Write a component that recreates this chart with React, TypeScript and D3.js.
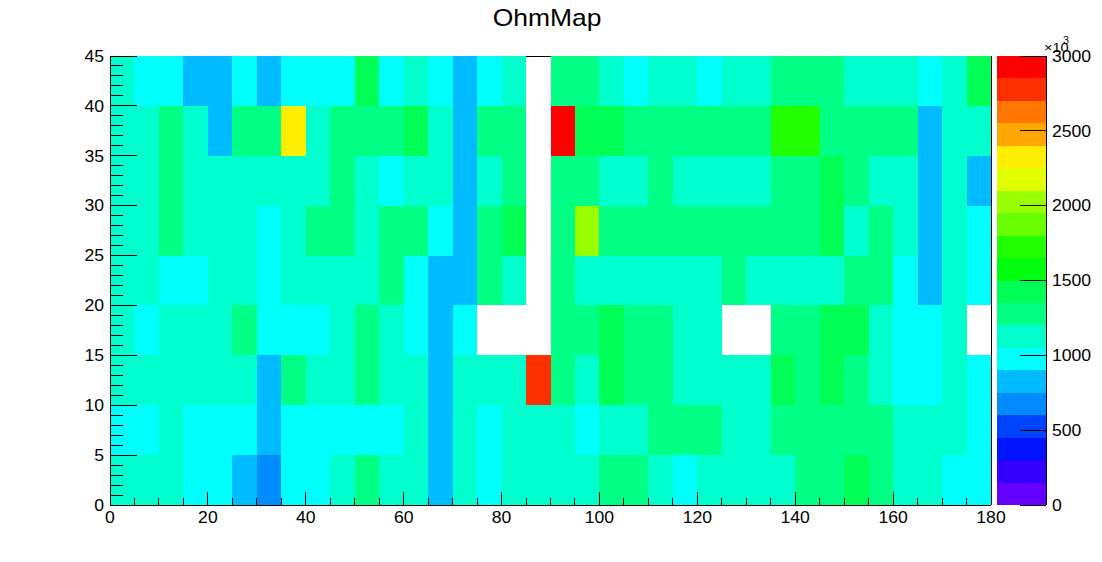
import React from 'react';
import * as d3 from 'd3';

// bin contents (palette units, x10^3), one array per 5-wide y band, 36 x bins of width 5 (0..180)
const y0to5 = [1130, 1130, 1130, 980, 980, 830, 690, 980, 980, 1130, 1280, 1130, 1130, 830, 1130, 980, 1130, 1130, 1130, 1130, 1280, 1280, 1130, 980, 1130, 1130, 1130, 1130, 1280, 1280, 1430, 1280, 1130, 1130, 980, 980];
const y5to10 = [980, 980, 1130, 980, 980, 980, 830, 980, 980, 980, 980, 980, 1130, 830, 1130, 980, 1130, 1130, 1130, 980, 1130, 1130, 1280, 1280, 1280, 1130, 1130, 1280, 1280, 1280, 1280, 1280, 1130, 1130, 1130, 980];
const y10to15 = [1130, 1130, 1130, 1130, 1130, 1130, 830, 1280, 1130, 1130, 1280, 1130, 1130, 830, 1130, 1130, 1130, 2770, 1280, 1130, 1430, 1280, 1280, 1130, 1130, 1130, 1130, 1430, 1280, 1430, 1280, 1130, 980, 980, 1130, 980];
const y15to20 = [1130, 980, 1130, 1130, 1130, 1280, 980, 980, 980, 1130, 1280, 1130, 980, 830, 980, 0, 0, 0, 1280, 1280, 1430, 1280, 1280, 1130, 1130, 0, 0, 1280, 1280, 1430, 1430, 1130, 980, 980, 1130, 0];
const y20to25 = [1130, 1130, 980, 980, 1130, 1130, 980, 1130, 1130, 1130, 1130, 1280, 980, 830, 830, 1280, 1130, 0, 1280, 1130, 1130, 1130, 1130, 1130, 1130, 1280, 1130, 1130, 1130, 1130, 1280, 1280, 980, 830, 1130, 980];
const y25to30 = [1130, 1130, 1280, 1130, 1130, 1130, 980, 1130, 1280, 1280, 1130, 1280, 1280, 980, 830, 1280, 1430, 0, 1280, 2010, 1280, 1280, 1280, 1280, 1280, 1280, 1280, 1280, 1280, 1430, 1130, 1280, 1130, 830, 1130, 980];
const y30to35 = [1130, 1130, 1280, 1130, 1130, 1130, 1130, 1130, 1130, 1280, 1130, 980, 1130, 1130, 830, 1130, 1280, 0, 1280, 1280, 1130, 1130, 1280, 1130, 1130, 1130, 1130, 1280, 1280, 1430, 1280, 1130, 1130, 830, 1130, 830];
const y35to40 = [1130, 1130, 1280, 1130, 830, 1280, 1280, 2310, 1130, 1280, 1280, 1280, 1430, 1130, 830, 1280, 1280, 0, 2930, 1430, 1430, 1280, 1280, 1280, 1280, 1280, 1280, 1720, 1720, 1280, 1280, 1280, 1280, 830, 1130, 1130];
const y40to45 = [1130, 980, 980, 830, 830, 980, 830, 980, 980, 980, 1430, 980, 1130, 980, 830, 980, 1130, 0, 1280, 1280, 1130, 980, 1130, 1130, 980, 1130, 1130, 1280, 1280, 1280, 1130, 1130, 1130, 980, 1130, 1430];

const rows = [y0to5, y5to10, y10to15, y15to20, y20to25, y25to30, y30to35, y35to40, y40to45];

const xTicks = [0, 20, 40, 60, 80, 100, 120, 140, 160, 180];
const yTicks = [0, 5, 10, 15, 20, 25, 30, 35, 40, 45];
const zTicks = [0, 500, 1000, 1500, 2000, 2500, 3000];

// ROOT pretty palette, 20 contour levels
const palette = [
  '#6300ff', '#3300ff', '#0014ff', '#0044ff', '#008bff', '#00bbff', '#00fffc', '#00ffcc', '#00ff85', '#00ff55',
  '#00ff0e', '#22ff00', '#69ff00', '#99ff00', '#e0ff00', '#ffee00', '#ffa700', '#ff7700', '#ff3000', '#ff0000',
];

const font = '"Liberation Sans", Arial, Helvetica, sans-serif';
const sx = 1.08;

const App: React.FC = () => {
  const left = 110, right = 991, top = 56, bottom = 505;
  const palX0 = 997, palX1 = 1046;

  const x = d3.scaleLinear().domain([0, 180]).range([left, right]);
  const y = d3.scaleLinear().domain([0, 45]).range([bottom, top]);
  const z = d3.scaleLinear().domain([0, 3000]).range([bottom, top]);
  const color = d3.scaleQuantize<string>().domain([0, 3000]).range(palette);

  const cells: React.ReactNode[] = [];
  rows.forEach((row, r) => {
    row.forEach((v, c) => {
      if (v <= 0) return;
      const x0 = x(c * 5), x1 = x(c * 5 + 5);
      const y0 = y(r * 5 + 5), y1 = y(r * 5);
      cells.push(
        <rect key={`${r}-${c}`} x={x0} y={y0} width={x1 - x0} height={y1 - y0} fill={color(v)} />
      );
    });
  });

  const xMinor = d3.range(0, 181, 5).filter(d => d % 20 !== 0);
  const yMinor = d3.range(0, 46, 1).filter(d => d % 5 !== 0);
  const levels = d3.range(0, 20);

  return (
    <div style={{ position: 'absolute', left: 0, top: 0 }}>
      <svg width={1102} height={562} style={{ display: 'block', background: '#fff' }}>
        {/* frame top, hidden under the cells */}
        <line x1={left} x2={right} y1={top} y2={top} stroke="#000" shapeRendering="crispEdges" />
        <g shapeRendering="crispEdges">{cells}</g>

        {/* axes */}
        <g stroke="#000" strokeWidth={1} shapeRendering="crispEdges">
          <line x1={left} x2={left} y1={top} y2={bottom} />
          <line x1={left} x2={right} y1={bottom} y2={bottom} />
          <line x1={right} x2={right} y1={top} y2={bottom} />
          {xTicks.map(t => (
            <line key={'xt' + t} x1={x(t)} x2={x(t)} y1={bottom} y2={bottom - 13.5} />
          ))}
          {xMinor.map(t => (
            <line key={'xm' + t} x1={x(t)} x2={x(t)} y1={bottom} y2={bottom - 6.7} />
          ))}
          {yTicks.map(t => (
            <line key={'yt' + t} x1={left} x2={left + 26.5} y1={y(t)} y2={y(t)} />
          ))}
          {yMinor.map(t => (
            <line key={'ym' + t} x1={left} x2={left + 13.2} y1={y(t)} y2={y(t)} />
          ))}
        </g>

        <g fontFamily={font} fontSize={16.3} fill="#000">
          {xTicks.map(t => (
            <text key={'xl' + t} transform={`translate(${x(t)},523) scale(${sx},1)`} textAnchor="middle">{t}</text>
          ))}
          {yTicks.map(t => (
            <text key={'yl' + t} transform={`translate(104,${y(t) + 5.8}) scale(${sx},1)`} textAnchor="end">{t}</text>
          ))}
        </g>

        {/* palette */}
        <g shapeRendering="crispEdges">
          {levels.map(j => (
            <rect key={'p' + j} x={palX0} width={palX1 - palX0} y={z((j + 1) * 150)} height={z(j * 150) - z((j + 1) * 150)} fill={palette[j]} />
          ))}
        </g>
        <g stroke="#000" shapeRendering="crispEdges">
          <line x1={palX1} x2={palX1} y1={top} y2={bottom} />
          {zTicks.map(t => (
            <line key={'zt' + t} x1={palX1} x2={palX1 - 26} y1={z(t)} y2={z(t)} />
          ))}
        </g>
        <g fontFamily={font} fontSize={16.3} fill="#000">
          {zTicks.map(t => (
            <text key={'zl' + t} transform={`translate(1052,${z(t) + 5.8}) scale(${sx},1)`}>{t}</text>
          ))}
          <text transform={`translate(1044,52) scale(${sx},1)`} fontSize={13.5}>×10</text>
          <text transform={`translate(1063,44) scale(${sx},1)`} fontSize={10}>3</text>
        </g>

        <text transform={`translate(547,26) scale(1.15,1)`} textAnchor="middle" fontFamily={font} fontSize={23} fill="#000">
          OhmMap
        </text>
      </svg>
    </div>
  );
};

export default App;
